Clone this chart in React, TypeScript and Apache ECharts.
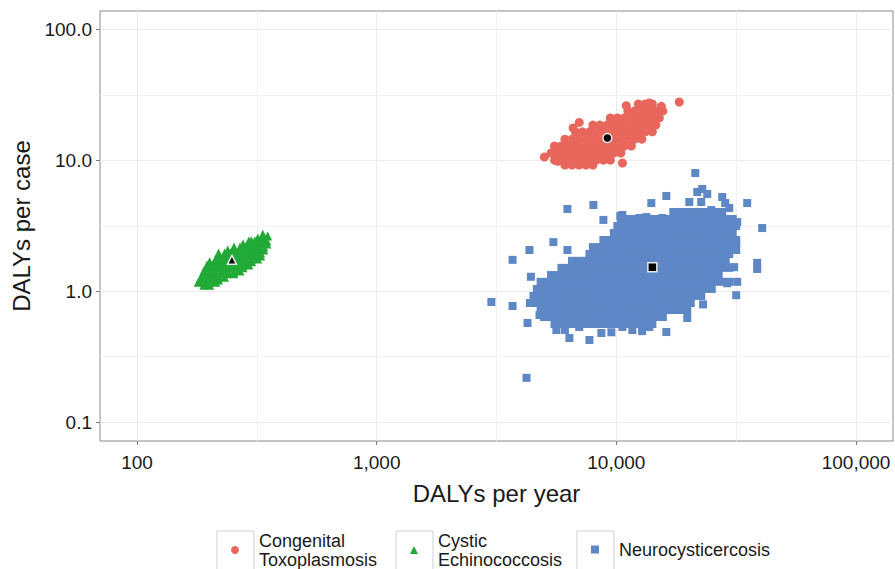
import React, { useEffect, useRef } from 'react';
import * as echarts from 'echarts';

const FONT = '"Liberation Sans", Arial, Helvetica, sans-serif';

// Axis ticks
const xTickValues = [100, 1000, 10000, 100000];
const xTickLabels = ['100', '1,000', '10,000', '100,000'];
const yTickValues = [0.1, 1, 10, 100];
const yTickLabels = ['0.1', '1.0', '10.0', '100.0'];
const xMinorGrid = [316.2, 3162, 31623];
const yMinorGrid = [0.3162, 3.162, 31.62];

const seriesNames = ['Congenital\nToxoplasmosis', 'Cystic\nEchinococcosis', 'Neurocysticercosis'];

// Congenital Toxoplasmosis: rows of [DALYs per case, DALYs per year values]
const toxoRows: [number, number[]][] = [
  [27.1, [12350, 13210, 14130]],
  [24.0, [11170, 11940, 12770, 13660, 14610, 15630]],
  [21.2, [9440, 10100, 10800, 11550, 12350, 13210, 14130, 15110]],
  [18.7, [7980, 8530, 9130, 9760, 10440, 11170, 11940, 12770, 13660, 14610]],
  [16.6, [6750, 7220, 7720, 8250, 8830, 9440, 10100, 10800, 11550, 12350, 13210, 14130]],
  [14.6, [6100, 6530, 6980, 7470, 7980, 8530, 9130, 9760, 10440, 11170, 11940, 12770]],
  [12.95, [5520, 5900, 6310, 6750, 7220, 7720, 8250, 8830, 9440, 10100, 10800, 11550]],
  [11.45, [5340, 5710, 6100, 6530, 6980, 7470, 7980, 8530, 9130, 9760, 10440]],
  [10.1, [5520, 5900, 6310, 6750, 7220, 7720, 8250, 8830, 9440]],
  [9.27, [6100, 6530, 6980, 7470, 7980]],
];
const toxoExtra: [number, number][] = [
  [5010, 10.67], [18300, 28.06], [13720, 27.6], [15400, 26.0], [7000, 19.6], [6600, 17.8],
  [10600, 9.6], [5700, 9.9], [11000, 26.3],
];

// Cystic Echinococcosis
const echinoRows: [number, number[]][] = [
  [2.57, [319, 338]],
  [2.44, [293, 310, 328, 348]],
  [2.31, [277, 293, 310, 328, 348]],
  [2.19, [254, 269, 285, 301, 319, 338]],
  [2.08, [239, 254, 269, 285, 301, 319, 338]],
  [1.97, [219, 232, 246, 261, 277, 293, 310, 328]],
  [1.87, [219, 232, 246, 261, 277, 293, 310, 328]],
  [1.78, [213, 226, 239, 254, 269, 285, 301, 319]],
  [1.69, [201, 213, 226, 239, 254, 269, 285, 301]],
  [1.6, [196, 207, 219, 232, 246, 261, 277, 293]],
  [1.52, [196, 207, 219, 232, 246, 261, 277]],
  [1.44, [190, 201, 213, 226, 239, 254, 269]],
  [1.37, [190, 201, 213, 226, 239, 254]],
  [1.29, [185, 196, 207, 219, 232]],
  [1.23, [185, 196, 207, 219]],
  [1.18, [180, 190, 201, 213]],
  [1.12, [190, 201]],
];
const echinoExtra: [number, number][] = [
  [351, 2.66], [300, 2.45], [335, 2.75],
];

// Neurocysticercosis
const neuroRows: [number, number[]][] = [
  [4.06, [17280, 18480, 19760, 21130, 22600, 24170, 25850, 27650]],
  [3.59, [10440, 11170, 11940, 12770, 13660, 14610, 15630, 16710, 17870, 19110, 20440, 21860, 23370, 25000, 26730, 28590, 30580]],
  [3.17, [10100, 10800, 11550, 12350, 13210, 14130, 15110, 16160, 17280, 18480, 19760, 21130, 22600, 24170, 25850, 27650, 29570, 31620]],
  [2.81, [9760, 10440, 11170, 11940, 12770, 13660, 14610, 15630, 16710, 17870, 19110, 20440, 21860, 23370, 25000, 26730, 28590, 30580]],
  [2.48, [8830, 9440, 10100, 10800, 11550, 12350, 13210, 14130, 15110, 16160, 17280, 18480, 19760, 21130, 22600, 24170, 25850, 27650, 29570, 31620]],
  [2.19, [7980, 8530, 9130, 9760, 10440, 11170, 11940, 12770, 13660, 14610, 15630, 16710, 17870, 19110, 20440, 21860, 23370, 25000, 26730, 28590, 30580]],
  [1.94, [7720, 8250, 8830, 9440, 10100, 10800, 11550, 12350, 13210, 14130, 15110, 16160, 17280, 18480, 19760, 21130, 22600, 24170, 25850, 27650, 29570]],
  [1.72, [6530, 6980, 7470, 7980, 8530, 9130, 9760, 10440, 11170, 11940, 12770, 13660, 14610, 15630, 16710, 17870, 19110, 20440, 21860, 23370, 25000, 26730, 28590]],
  [1.52, [5900, 6310, 6750, 7220, 7720, 8250, 8830, 9440, 10100, 10800, 11550, 12350, 13210, 14130, 15110, 16160, 17280, 18480, 19760, 21130, 22600, 24170, 25850, 27650, 29570]],
  [1.34, [5340, 5710, 6100, 6530, 6980, 7470, 7980, 8530, 9130, 9760, 10440, 11170, 11940, 12770, 13660, 14610, 15630, 16710, 17870, 19110, 20440, 21860, 23370, 25000, 26730]],
  [1.19, [4830, 5160, 5520, 5900, 6310, 6750, 7220, 7720, 8250, 8830, 9440, 10100, 10800, 11550, 12350, 13210, 14130, 15110, 16160, 17280, 18480, 19760, 21130, 22600, 24170, 25850, 27650, 29570]],
  [1.05, [4660, 4990, 5340, 5710, 6100, 6530, 6980, 7470, 7980, 8530, 9130, 9760, 10440, 11170, 11940, 12770, 13660, 14610, 15630, 16710, 17870, 19110, 20440, 21860, 23370, 25000]],
  [0.927, [4510, 4830, 5160, 5520, 5900, 6310, 6750, 7220, 7720, 8250, 8830, 9440, 10100, 10800, 11550, 12350, 13210, 14130, 15110, 16160, 17280, 18480, 19760, 21130, 22600]],
  [0.82, [4360, 4660, 4990, 5340, 5710, 6100, 6530, 6980, 7470, 7980, 8530, 9130, 9760, 10440, 11170, 11940, 12770, 13660, 14610, 15630, 16710, 17870, 19110, 20440]],
  [0.725, [4830, 5160, 5520, 5900, 6310, 6750, 7220, 7720, 8250, 8830, 9440, 10100, 10800, 11550, 12350, 13210, 14130, 15110, 16160, 17280, 18480, 19760]],
  [0.641, [4990, 5340, 5710, 6100, 6530, 6980, 7470, 7980, 8530, 9130, 9760, 10440, 11170, 11940, 12770, 13660, 14610, 15630]],
  [0.567, [5520, 5900, 6310, 6750, 7220, 7720, 8250, 8830, 9440, 10100, 10800, 11550, 12350, 13210, 14130]],
];
const neuroExtra: [number, number][] = [
  [21340, 8.05], [21750, 5.77], [22820, 6.08], [23940, 5.57], [20150, 4.84], [22600, 4.84],
  [16160, 5.38], [13990, 4.75], [27650, 5.28], [28460, 4.75], [29570, 4.36], [35150, 4.75],
  [24880, 4.2], [17960, 3.99], [18660, 4.06], [10590, 3.85], [12470, 3.65], [13340, 3.71],
  [15550, 3.65], [31930, 3.4], [40580, 3.06], [31620, 2.35], [31620, 2.08], [38680, 1.66],
  [38680, 1.49], [31000, 1.54], [26500, 1.39], [31930, 1.19], [31620, 0.94], [29000, 1.16],
  [6250, 4.28], [8020, 4.59], [8830, 3.53], [10390, 3.78], [5460, 2.39], [6250, 2.08],
  [4340, 2.08], [3690, 1.75], [3010, 0.834], [3690, 0.778], [4260, 0.577], [4220, 0.22],
  [5620, 0.51], [6370, 0.443], [7720, 0.428], [8660, 0.484], [10590, 0.538], [11660, 0.51],
  [13720, 0.538], [16160, 0.492], [7000, 0.538], [4780, 0.664],
  [6100, 0.51], [9530, 0.49], [12800, 0.5], [19760, 0.63], [23000, 0.8], [4400, 1.3],
];

// Means (black markers)
const meanPoints: [number, number][] = [[9170, 14.9], [249, 1.75], [14130, 1.54]];

const flatten = (rows: [number, number[]][], extra: [number, number][]) => [
  ...rows.flatMap(([y, xs]) => xs.map((x) => [x, y])),
  ...extra,
];

const colors = ['#e8665c', '#22a937', '#5e87c6'];
const symbols = ['circle', 'triangle', 'rect'];

const nearestLabel = (v: number, vals: number[], labels: string[]) => {
  let best = 0;
  let bd = Infinity;
  vals.forEach((t, i) => {
    const d = Math.abs(Math.log10(v) - Math.log10(t));
    if (d < bd) { bd = d; best = i; }
  });
  return labels[best];
};

export default function App() {
  const ref = useRef<HTMLDivElement>(null);
  useEffect(() => {
    document.body.style.margin = '0';
    const chart = echarts.init(ref.current!, null, { renderer: 'svg' });
    const legendDefs = [
      { name: seriesNames[0], icon: 'circle', left: 231, top: 531 },
      { name: seriesNames[1], icon: 'triangle', left: 410, top: 531 },
      { name: seriesNames[2], icon: 'rect', left: 591, top: 540 },
    ];
    const option: any = {
      animation: false,
      backgroundColor: '#ffffff',
      grid: {
        left: 100, top: 11, right: 2, bottom: 128,
        show: true, borderColor: '#8a8a8a', borderWidth: 1, backgroundColor: '#ffffff',
      },
      xAxis: {
        type: 'log', logBase: 10, min: 70.1, max: 142600,
        axisLine: { show: false },
        axisTick: { show: true, length: 4, lineStyle: { color: '#7a7a7a' }, customValues: xTickValues },
        axisLabel: {
          customValues: xTickValues,
          formatter: (v: number) => nearestLabel(v, xTickValues, xTickLabels),
          fontSize: 19, color: '#1a1a1a', fontFamily: FONT, margin: 12,
        },
        splitLine: { show: true, lineStyle: { color: '#ebebeb', width: 1 } },
        minorSplitLine: { show: false },
        name: 'DALYs per year', nameLocation: 'middle', nameGap: 40,
        nameTextStyle: { fontSize: 24, color: '#1a1a1a', fontFamily: FONT },
      },
      yAxis: {
        type: 'log', logBase: 10, min: 0.07249, max: 138.9,
        axisLine: { show: false },
        axisTick: { show: true, length: 4, lineStyle: { color: '#7a7a7a' }, customValues: yTickValues },
        axisLabel: {
          customValues: yTickValues,
          formatter: (v: number) => nearestLabel(v, yTickValues, yTickLabels),
          fontSize: 19, color: '#1a1a1a', fontFamily: FONT, margin: 8,
        },
        splitLine: { show: true, lineStyle: { color: '#ebebeb', width: 1 } },
        name: 'DALYs per case', nameLocation: 'middle', nameGap: 66, nameRotate: 90,
        nameTextStyle: { fontSize: 24, color: '#1a1a1a', fontFamily: FONT },
      },
      legend: legendDefs.map((d) => ({
        data: [{ name: d.name, icon: d.icon }],
        left: d.left, top: d.top, padding: 0,
        itemWidth: 8, itemHeight: 8, selectedMode: false,
        textStyle: { fontSize: 18, lineHeight: 19, color: '#1a1a1a', fontFamily: FONT, padding: [0, 0, 0, 15] },
      })),
      graphic: [
        { type: 'rect', shape: { x: 217, y: 531, width: 37, height: 50 }, style: { fill: '#fff', stroke: '#d0d0d0', lineWidth: 1 }, z: -1 },
        { type: 'rect', shape: { x: 396, y: 531, width: 37, height: 50 }, style: { fill: '#fff', stroke: '#d0d0d0', lineWidth: 1 }, z: -1 },
        { type: 'rect', shape: { x: 577, y: 531, width: 37, height: 50 }, style: { fill: '#fff', stroke: '#d0d0d0', lineWidth: 1 }, z: -1 },
      ],
      series: [
        {
          name: seriesNames[0], type: 'scatter', symbol: symbols[0], symbolSize: 9,
          itemStyle: { color: colors[0], opacity: 1 }, data: flatten(toxoRows, toxoExtra), z: 2,
          markLine: {
            silent: true, symbol: ['none', 'none'], label: { show: false }, z: 1,
            lineStyle: { color: '#f2f2f2', width: 1, type: 'solid' },
            emphasis: { disabled: true },
            data: [
              ...xMinorGrid.map((v) => ({ xAxis: v })),
              ...yMinorGrid.map((v) => ({ yAxis: v })),
            ],
          },
        },
        {
          name: seriesNames[1], type: 'scatter', symbol: symbols[1], symbolSize: 9,
          itemStyle: { color: colors[1], opacity: 1 }, data: flatten(echinoRows, echinoExtra), z: 2,
        },
        {
          name: seriesNames[2], type: 'scatter', symbol: symbols[2], symbolSize: 8,
          itemStyle: { color: colors[2], opacity: 1 }, data: flatten(neuroRows, neuroExtra), z: 2,
        },
        {
          name: 'Mean', type: 'scatter', symbolSize: 9, z: 3,
          itemStyle: { color: '#000000', borderColor: '#e8e8e8', borderWidth: 1.5, opacity: 1 },
          data: meanPoints.map((p, i) => ({ value: p, symbol: symbols[i] })),
        },
      ],
    };
    chart.setOption(option);
    return () => chart.dispose();
  }, []);
  return <div ref={ref} style={{ width: 895, height: 569 }} />;
}
